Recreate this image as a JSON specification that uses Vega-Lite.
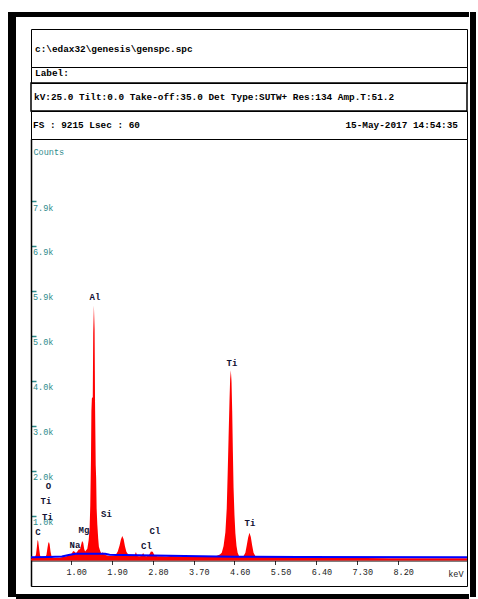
{
  "$schema": "https://vega.github.io/schema/vega-lite/v6.json",
  "background": "white",
  "padding": {"left": 8, "top": 12, "right": 0, "bottom": 0},
  "config": {
    "view": {"stroke": null},
    "font": "Liberation Mono",
    "text": {"font": "Liberation Mono"}
  },
  "bounds": "full",
  "spacing": 0,
  "hconcat": [
    {
      "width": 8, "height": 585,
      "view": {"fill": "black", "stroke": null},
      "data": {"values": []},
      "mark": "point",
      "encoding": {}
    },
    {
      "bounds": "full",
      "spacing": 11,
      "vconcat": [
        {
          "width": 453, "height": 5,
          "view": {"fill": "black", "stroke": null},
          "data": {"values": []},
          "mark": "point",
          "encoding": {}
        },
        {
          "bounds": "full",
          "spacing": 7,
          "vconcat": [
            {
              "bounds": "full",
              "spacing": 12,
              "hconcat": [
                {
                  "width": 1, "height": 557,
                  "view": {"fill": "white", "stroke": null},
                  "data": {"values": []},
                  "mark": "point",
                  "encoding": {}
                },
                {
                  "bounds": "full",
                  "spacing": 1,
                  "hconcat": [
                    {
                      "bounds": "flush",
                      "spacing": 0,
                      "vconcat": [
                        {
                          "width": 436, "height": 38,
                          "view": {"stroke": "black", "strokeWidth": 1},
                          "data": {"values": [{"p": 0, "t": "c:\\edax32\\genesis\\genspc.spc"}]},
                          "mark": {"type": "text", "align": "left", "baseline": "middle", "dx": 4, "dy": 1, "fontSize": 9.4, "fontWeight": "bold", "color": "black"},
                          "encoding": {
                            "x": {"field": "p", "type": "quantitative", "scale": {"domain": [0, 1]}, "axis": null},
                            "text": {"field": "t"}
                          }
                        },
                        {
                          "width": 436, "height": 16,
                          "view": {"stroke": "black", "strokeWidth": 1},
                          "data": {"values": [{"p": 0, "t": "Label:"}]},
                          "mark": {"type": "text", "align": "left", "baseline": "middle", "dx": 4, "dy": -2, "fontSize": 9.4, "fontWeight": "bold", "color": "black"},
                          "encoding": {
                            "x": {"field": "p", "type": "quantitative", "scale": {"domain": [0, 1]}, "axis": null},
                            "text": {"field": "t"}
                          }
                        },
                        {
                          "width": 436, "height": 28,
                          "view": {"stroke": "black", "strokeWidth": 1.5},
                          "data": {"values": [{"p": 0, "t": "kV:25.0 Tilt:0.0 Take-off:35.0  Det Type:SUTW+ Res:134 Amp.T:51.2"}]},
                          "mark": {"type": "text", "align": "left", "baseline": "middle", "dx": 3, "dy": 0, "fontSize": 9.4, "fontWeight": "bold", "color": "black"},
                          "encoding": {
                            "x": {"field": "p", "type": "quantitative", "scale": {"domain": [0, 1]}, "axis": null},
                            "text": {"field": "t"}
                          }
                        },
                        {
                          "width": 436, "height": 28,
                          "view": {"stroke": "black", "strokeWidth": 1},
                          "layer": [
                            {
                              "data": {"values": [{"p": 0, "t": "FS : 9215  Lsec : 60"}]},
                              "mark": {"type": "text", "align": "left", "baseline": "middle", "dx": 2, "fontSize": 9.4, "fontWeight": "bold", "color": "black"},
                              "encoding": {
                                "x": {"field": "p", "type": "quantitative", "scale": {"domain": [0, 1]}, "axis": null},
                                "text": {"field": "t"}
                              }
                            },
                            {
                              "data": {"values": [{"p": 1, "t": "15-May-2017 14:54:35"}]},
                              "mark": {"type": "text", "align": "right", "baseline": "middle", "dx": -9, "fontSize": 9.4, "fontWeight": "bold", "color": "black"},
                              "encoding": {
                                "x": {"field": "p", "type": "quantitative", "axis": null},
                                "text": {"field": "t"}
                              }
                            }
                          ]
                        },
                        {
                          "width": 436, "height": 447,
                          "view": {"stroke": "black", "strokeWidth": 1},
                          "layer": [
                            {
                              "data": {"values": [
                                {"kev": 0.12, "c": 40}, {"kev": 0.15, "c": 55}, {"kev": 0.18, "c": 60}, {"kev": 0.21, "c": 80},
                                {"kev": 0.23, "c": 130}, {"kev": 0.25, "c": 300}, {"kev": 0.265, "c": 450}, {"kev": 0.28, "c": 420},
                                {"kev": 0.30, "c": 250}, {"kev": 0.32, "c": 110}, {"kev": 0.34, "c": 65}, {"kev": 0.37, "c": 60},
                                {"kev": 0.40, "c": 55}, {"kev": 0.43, "c": 70}, {"kev": 0.46, "c": 120}, {"kev": 0.48, "c": 260},
                                {"kev": 0.50, "c": 380}, {"kev": 0.515, "c": 410}, {"kev": 0.53, "c": 360}, {"kev": 0.55, "c": 200},
                                {"kev": 0.57, "c": 100}, {"kev": 0.60, "c": 60}, {"kev": 0.65, "c": 55}, {"kev": 0.70, "c": 60},
                                {"kev": 0.75, "c": 62}, {"kev": 0.80, "c": 70}, {"kev": 0.85, "c": 80}, {"kev": 0.90, "c": 95},
                                {"kev": 0.95, "c": 110}, {"kev": 0.99, "c": 120}, {"kev": 1.02, "c": 160}, {"kev": 1.05, "c": 210},
                                {"kev": 1.08, "c": 190}, {"kev": 1.11, "c": 160}, {"kev": 1.14, "c": 200}, {"kev": 1.17, "c": 240},
                                {"kev": 1.20, "c": 250}, {"kev": 1.22, "c": 330}, {"kev": 1.245, "c": 430}, {"kev": 1.27, "c": 390},
                                {"kev": 1.29, "c": 260}, {"kev": 1.31, "c": 200}, {"kev": 1.33, "c": 220}, {"kev": 1.36, "c": 260},
                                {"kev": 1.39, "c": 450}, {"kev": 1.41, "c": 700}, {"kev": 1.425, "c": 1200}, {"kev": 1.44, "c": 2200},
                                {"kev": 1.45, "c": 3300}, {"kev": 1.46, "c": 3570}, {"kev": 1.48, "c": 3600}, {"kev": 1.49, "c": 5000},
                                {"kev": 1.505, "c": 5620}, {"kev": 1.52, "c": 5100}, {"kev": 1.53, "c": 3500}, {"kev": 1.545, "c": 2100},
                                {"kev": 1.555, "c": 1800}, {"kev": 1.565, "c": 1150}, {"kev": 1.58, "c": 800}, {"kev": 1.60, "c": 480},
                                {"kev": 1.615, "c": 300}, {"kev": 1.64, "c": 220}, {"kev": 1.67, "c": 150}, {"kev": 1.70, "c": 180},
                                {"kev": 1.73, "c": 150}, {"kev": 1.76, "c": 120}, {"kev": 1.80, "c": 110}, {"kev": 1.85, "c": 100},
                                {"kev": 1.90, "c": 105}, {"kev": 1.95, "c": 110}, {"kev": 1.99, "c": 130}, {"kev": 2.03, "c": 200},
                                {"kev": 2.07, "c": 330}, {"kev": 2.10, "c": 460}, {"kev": 2.13, "c": 540}, {"kev": 2.16, "c": 470},
                                {"kev": 2.19, "c": 310}, {"kev": 2.22, "c": 190}, {"kev": 2.26, "c": 130}, {"kev": 2.30, "c": 110},
                                {"kev": 2.35, "c": 100}, {"kev": 2.40, "c": 105}, {"kev": 2.43, "c": 185}, {"kev": 2.46, "c": 100},
                                {"kev": 2.50, "c": 95}, {"kev": 2.55, "c": 100}, {"kev": 2.59, "c": 165}, {"kev": 2.62, "c": 100},
                                {"kev": 2.67, "c": 95}, {"kev": 2.72, "c": 120}, {"kev": 2.76, "c": 200}, {"kev": 2.80, "c": 190},
                                {"kev": 2.84, "c": 110}, {"kev": 2.90, "c": 95}, {"kev": 3.00, "c": 95}, {"kev": 3.10, "c": 90},
                                {"kev": 3.20, "c": 100}, {"kev": 3.30, "c": 95}, {"kev": 3.40, "c": 90}, {"kev": 3.55, "c": 85},
                                {"kev": 3.70, "c": 80}, {"kev": 3.85, "c": 85}, {"kev": 4.00, "c": 80}, {"kev": 4.10, "c": 85},
                                {"kev": 4.20, "c": 100}, {"kev": 4.28, "c": 130}, {"kev": 4.32, "c": 170}, {"kev": 4.36, "c": 320},
                                {"kev": 4.40, "c": 620}, {"kev": 4.43, "c": 1150}, {"kev": 4.45, "c": 1900}, {"kev": 4.47, "c": 2700},
                                {"kev": 4.49, "c": 3500}, {"kev": 4.505, "c": 4000}, {"kev": 4.52, "c": 4190}, {"kev": 4.535, "c": 3950},
                                {"kev": 4.55, "c": 3300}, {"kev": 4.565, "c": 2400}, {"kev": 4.58, "c": 1600}, {"kev": 4.60, "c": 1000},
                                {"kev": 4.62, "c": 600}, {"kev": 4.645, "c": 320}, {"kev": 4.67, "c": 170}, {"kev": 4.70, "c": 100},
                                {"kev": 4.75, "c": 85}, {"kev": 4.80, "c": 100}, {"kev": 4.84, "c": 170}, {"kev": 4.87, "c": 330},
                                {"kev": 4.90, "c": 500}, {"kev": 4.93, "c": 610}, {"kev": 4.96, "c": 520}, {"kev": 4.99, "c": 330},
                                {"kev": 5.02, "c": 170}, {"kev": 5.06, "c": 100}, {"kev": 5.12, "c": 80}, {"kev": 5.30, "c": 85},
                                {"kev": 5.45, "c": 95}, {"kev": 5.60, "c": 80}, {"kev": 5.75, "c": 90}, {"kev": 5.90, "c": 78},
                                {"kev": 6.10, "c": 80}, {"kev": 6.30, "c": 85}, {"kev": 6.45, "c": 90}, {"kev": 6.60, "c": 70},
                                {"kev": 7.00, "c": 60}, {"kev": 7.50, "c": 55}, {"kev": 8.00, "c": 52}, {"kev": 8.50, "c": 50},
                                {"kev": 9.00, "c": 50}, {"kev": 9.50, "c": 50}, {"kev": 9.72, "c": 50}
                              ]},
                              "mark": {"type": "area", "color": "#ff0000", "clip": true},
                              "encoding": {
                                "x": {
                                  "field": "kev", "type": "quantitative",
                                  "scale": {"domain": [0.12, 9.72], "nice": false, "zero": false},
                                  "axis": {
                                    "values": [1.0, 1.9, 2.8, 3.7, 4.6, 5.5, 6.4, 7.3, 8.2],
                                    "format": ".2f",
                                    "offset": -25.5,
                                    "grid": false,
                                    "domainColor": "black", "domainWidth": 1,
                                    "tickColor": "#333333", "tickSize": 4,
                                    "labelPadding": 3, "labelFont": "Liberation Mono", "labelFontSize": 8.5,
                                    "labelColor": "#222222", "labelFlush": false,
                                    "labelAlign": "left", "labelOffset": -5,
                                    "title": "keV", "titleFont": "Liberation Mono", "titleFontSize": 8.5,
                                    "titleFontWeight": "normal", "titleColor": "#222222",
                                    "titleAngle": 0, "titleAlign": "right", "titleBaseline": "middle",
                                    "titleX": 432, "titleY": 13
                                  }
                                },
                                "y": {
                                  "field": "c", "type": "quantitative",
                                  "scale": {"domain": [-562, 9286], "nice": false, "zero": false},
                                  "axis": {
                                    "values": [990, 1980, 2970, 3960, 4950, 5940, 6930, 7920],
                                    "labelExpr": "format(datum.value / 1000, '.1f') + 'k'",
                                    "grid": false,
                                    "domainColor": "black", "domainWidth": 1.5,
                                    "tickColor": "#2e8b8b", "tickSize": -5, "tickWidth": 1.5,
                                    "labelAlign": "left", "labelBaseline": "top",
                                    "labelPadding": 3.5, "labelOffset": 2,
                                    "labelColor": "#2e8b8b", "labelFont": "Liberation Mono", "labelFontSize": 8.5,
                                    "title": "Counts", "titleAngle": 0, "titleAlign": "left", "titleBaseline": "middle",
                                    "titleX": 2, "titleY": 12,
                                    "titleColor": "#2e8b8b", "titleFont": "Liberation Mono", "titleFontSize": 8.5,
                                    "titleFontWeight": "normal"
                                  }
                                },
                                "y2": {"datum": 0}
                              }
                            },
                            {
                              "data": {"values": [
                                {"kev": 0.12, "c": 70}, {"kev": 0.50, "c": 78}, {"kev": 0.80, "c": 90},
                                {"kev": 0.95, "c": 120}, {"kev": 1.10, "c": 150}, {"kev": 1.75, "c": 150},
                                {"kev": 1.85, "c": 125}, {"kev": 2.50, "c": 115}, {"kev": 3.50, "c": 100},
                                {"kev": 4.60, "c": 85}, {"kev": 6.00, "c": 75}, {"kev": 9.72, "c": 70}
                              ]},
                              "mark": {"type": "line", "color": "#0000ff", "strokeWidth": 2, "clip": true},
                              "encoding": {
                                "x": {"field": "kev", "type": "quantitative"},
                                "y": {"field": "c", "type": "quantitative"}
                              }
                            },
                            {
                              "data": {"values": [
                                {"el": "C", "kev": 0.274, "c": 628},
                                {"el": "O", "kev": 0.505, "c": 1641},
                                {"el": "Ti", "kev": 0.450, "c": 1311},
                                {"el": "Ti", "kev": 0.483, "c": 958},
                                {"el": "Na", "kev": 1.089, "c": 341},
                                {"el": "Mg", "kev": 1.287, "c": 672},
                                {"el": "Al", "kev": 1.529, "c": 5805},
                                {"el": "Si", "kev": 1.782, "c": 1024},
                                {"el": "Cl", "kev": 2.663, "c": 319},
                                {"el": "Cl", "kev": 2.850, "c": 650},
                                {"el": "Ti", "kev": 4.545, "c": 4351},
                                {"el": "Ti", "kev": 4.941, "c": 826}
                              ]},
                              "mark": {"type": "text", "align": "center", "baseline": "middle", "font": "Liberation Mono", "fontSize": 9, "fontWeight": "bold", "color": "#111133"},
                              "encoding": {
                                "x": {"field": "kev", "type": "quantitative"},
                                "y": {"field": "c", "type": "quantitative"},
                                "text": {"field": "el"}
                              }
                            }
                          ]
                        }
                      ]
                    },
                    {
                      "width": 1, "height": 557,
                      "view": {"fill": "white", "stroke": null},
                      "data": {"values": []},
                      "mark": "point",
                      "encoding": {}
                    }
                  ]
                }
              ]
            },
            {
              "width": 453, "height": 5,
              "view": {"fill": "black", "stroke": null},
              "data": {"values": []},
              "mark": "point",
              "encoding": {}
            }
          ]
        }
      ]
    },
    {
      "width": 6, "height": 585,
      "view": {"fill": "black", "stroke": null},
      "data": {"values": []},
      "mark": "point",
      "encoding": {}
    }
  ]
}
